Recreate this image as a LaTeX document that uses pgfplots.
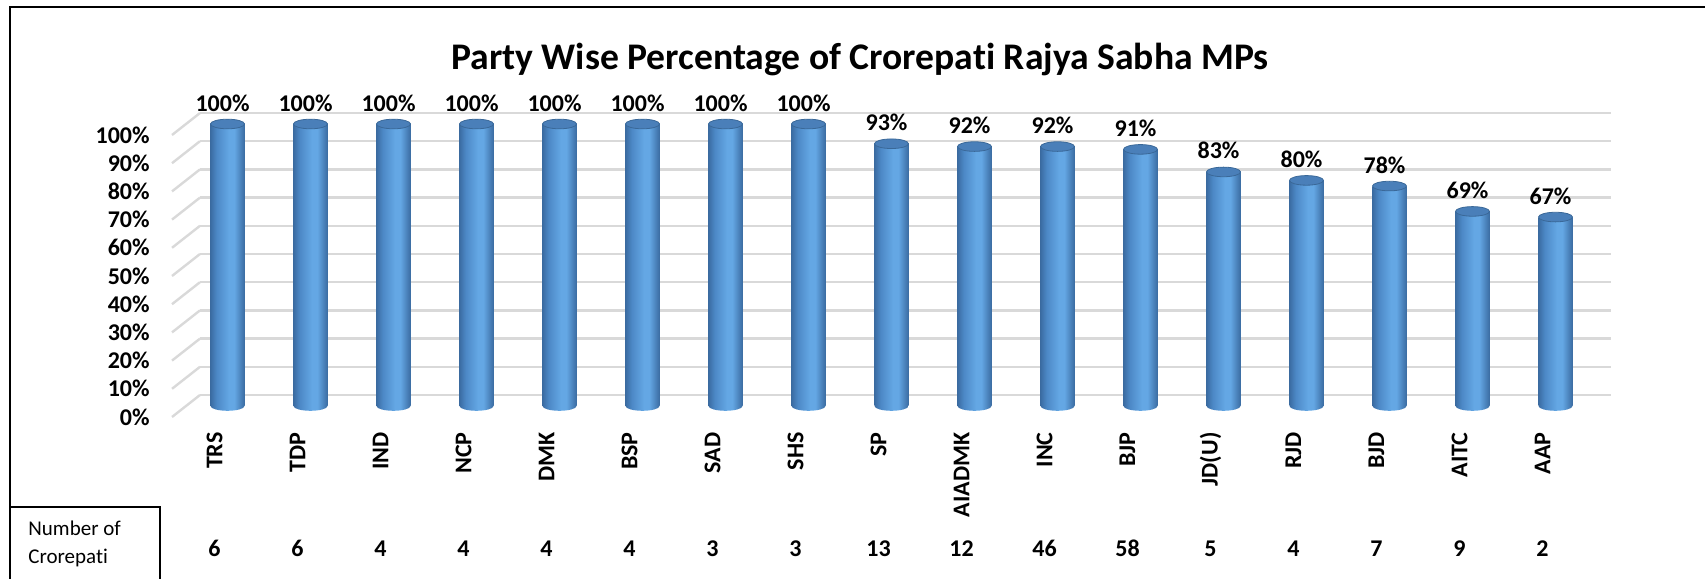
\documentclass[border=0pt]{standalone}
\usepackage{pgfplots}
\pgfplotsset{compat=1.18}
\usepackage{pgfplotstable}
\usepackage{fontspec}
\setmainfont{Carlito}[Ligatures=NoCommon]
\definecolor{gridgray}{HTML}{D9D9D9}
\definecolor{baredge}{HTML}{3B6CA2}
\definecolor{barmid}{HTML}{64A7E4}
\definecolor{barmid2}{HTML}{4C88C6}
\definecolor{capblue}{HTML}{4A7FB9}
\definecolor{capedge}{HTML}{3A6898}

\pgfdeclarehorizontalshading{cylshade}{100bp}{%
  color(0bp)=(baredge); color(25bp)=(baredge); color(34bp)=(barmid2);
  color(52bp)=(barmid); color(60bp)=(barmid); color(75bp)=(baredge); color(100bp)=(baredge)}

\pgfdeclareplotmark{cyltop}{%
  \pgfpathellipse{\pgfpointorigin}{\pgfqpoint{8.5pt}{0pt}}{\pgfqpoint{0pt}{2.4pt}}%
  \pgfusepathqfillstroke}
\pgfdeclareplotmark{cylbot}{%
  \pgfpathmoveto{\pgfqpoint{-8.5pt}{0.5pt}}%
  \pgfpathlineto{\pgfqpoint{-8.5pt}{0pt}}%
  \pgfpatharc{180}{360}{8.5pt and 2.4pt}%
  \pgfpathlineto{\pgfqpoint{8.5pt}{0.5pt}}%
  \pgfpathclose
  \pgfshadepath{cylshade}{0}%
  \pgfusepath{}}

\pgfplotstableread{
x y n ny
0 100 6 -53.5
1 100 6 -53.5
2 100 4 -53.5
3 100 4 -53.5
4 100 4 -53.5
5 100 4 -53.5
6 100 3 -53.5
7 100 3 -53.5
8 93 13 -53.5
9 92 12 -53.5
10 92 46 -53.5
11 91 58 -53.5
12 83 5 -53.5
13 80 4 -53.5
14 78 7 -53.5
15 69 9 -53.5
16 67 2 -53.5
}\data

\begin{document}
\begin{tikzpicture}
\useasboundingbox (0,0) rectangle (852.5pt,289.5pt);
\draw[line width=1pt] (5pt,0) -- (5pt,286pt) -- (852.5pt,286pt);
\draw[line width=0.8pt] (5pt,36pt) -- (80pt,36pt) -- (80pt,0);
\node[anchor=base west, font=\fontsize{10.5}{12}\selectfont, inner sep=0pt] at (14pt,21.5pt) {Number of};
\node[anchor=base west, font=\fontsize{10.5}{12}\selectfont, inner sep=0pt] at (14pt,7.5pt) {Crorepati};
\node[anchor=base, font=\fontsize{18.8}{22}\selectfont\bfseries, inner sep=0pt] at (430pt,254.5pt) {Party Wise Percentage of Crorepati Rajya Sabha MPs};
\begin{axis}[
  at={(93pt,86.5pt)}, anchor=south west,
  scale only axis, width=705.5pt, height=141pt,
  xmin=-0.5, xmax=16.5, ymin=0, ymax=100,
  clip=false,
  axis line style={draw=none}, major tick length=0pt,
  ytick={0,10,...,100},
  yticklabel={\pgfmathprintnumber{\tick}\%},
  yticklabel style={anchor=east, inner sep=0pt, xshift=-18pt, yshift=-5.5pt, font=\fontsize{12}{14}\selectfont\bfseries},
  /pgf/number format/assume math mode=true,
  xtick={0,...,16},
  xticklabels={TRS,TDP,IND,NCP,DMK,BSP,SAD,SHS,SP,AIADMK,INC,BJP,JD(U),RJD,BJD,AITC,AAP},
  xticklabel style={xshift=-6.5pt, yshift=-13pt, rotate=90, anchor=east, inner sep=0pt, font=\fontsize{12}{14}\selectfont\bfseries},
  ymajorgrids, major grid style={draw=gridgray, line width=1.2pt, xshift=7pt, yshift=5.5pt},
]
\pgfplotsinvokeforeach{0,10,...,100}{
  \draw[gridgray, line width=1.2pt] (axis cs:-0.5,#1) ++(-7pt,-5.5pt) -- ++(14pt,11pt);
}
\pgfplotsinvokeforeach{0,...,16}{
  \addplot[ybar, bar width=17pt, draw=none, shade, shading=cylshade, shading angle=0,
    restrict x to domain=#1:#1] table[x=x,y=y]{\data};
}
\addplot[only marks, mark=cylbot] table[x=x,y expr=0]{\data};
\addplot[only marks, mark=cyltop, mark options={fill=capblue, draw=capedge, line width=0.4pt},
  nodes near coords={\pgfmathprintnumber{\pgfplotspointmeta}\%}, point meta=y,
  nodes near coords style={anchor=base, inner sep=0pt, yshift=6.5pt, xshift=-2.5pt, text=black, font=\fontsize{12}{14}\selectfont\bfseries}] table[x=x,y=y]{\data};
\addplot[only marks, mark=none, nodes near coords, point meta=explicit symbolic,
  nodes near coords style={anchor=base, inner sep=0pt, xshift=-6.5pt, text=black, font=\fontsize{12}{14}\selectfont\bfseries}] table[x=x,y=ny,meta=n]{\data};
\end{axis}
\end{tikzpicture}
\end{document}
